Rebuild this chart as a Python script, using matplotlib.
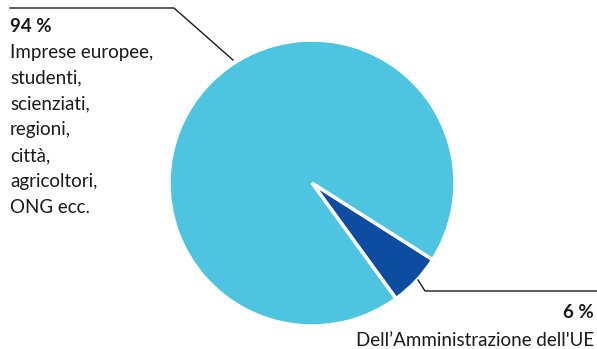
import matplotlib
matplotlib.use("Agg")
import matplotlib.pyplot as plt

values = [6, 94]
pct_labels = ["6 %", "94 %"]
desc_labels = ["Dell\u2019Amministrazione dell'UE",
               "Imprese europee,\nstudenti,\nscienziati,\nregioni,\ncittà,\nagricoltori,\nONG ecc."]
colors = ["#0C4DA2", "#4DC4E0"]

W, H = 597, 349
fig = plt.figure(figsize=(W / 100, H / 100), dpi=100)
ax = fig.add_axes([0, 0, 1, 1])
ax.set_xlim(0, W)
ax.set_ylim(0, H)
ax.set_aspect("equal")
ax.axis("off")

cx, cy, r = 312, H - 183, 143
ax.pie(values, colors=colors, startangle=-32.4, counterclock=False,
       center=(cx, cy), radius=r,
       wedgeprops=dict(edgecolor="white", linewidth=2.5))
ax.set_xlim(0, W)
ax.set_ylim(0, H)

fam = ["Lato", "DejaVu Sans"]
tc = "#1a1a1a"
# leader lines
ax.plot([10, 174, 233], [H - 8, H - 8, H - 60], color=tc, lw=1)
ax.plot([418, 425, W], [H - 280, H - 291, H - 291], color=tc, lw=1)

ax.text(10, H - 27, pct_labels[1], family=fam, fontsize=13.5, fontweight="bold",
        color=tc, ha="left", va="center")
ax.text(10, H - 44, desc_labels[1], family=fam, fontsize=13.5, color=tc,
        ha="left", va="top", linespacing=1.63)
ax.text(594, H - 313, pct_labels[0], family=fam, fontsize=13.5, fontweight="bold",
        color=tc, ha="right", va="center")
ax.text(594, H - 340, desc_labels[0], family=fam, fontsize=13.5, color=tc,
        ha="right", va="center")

fig.savefig("out.png", dpi=100)
